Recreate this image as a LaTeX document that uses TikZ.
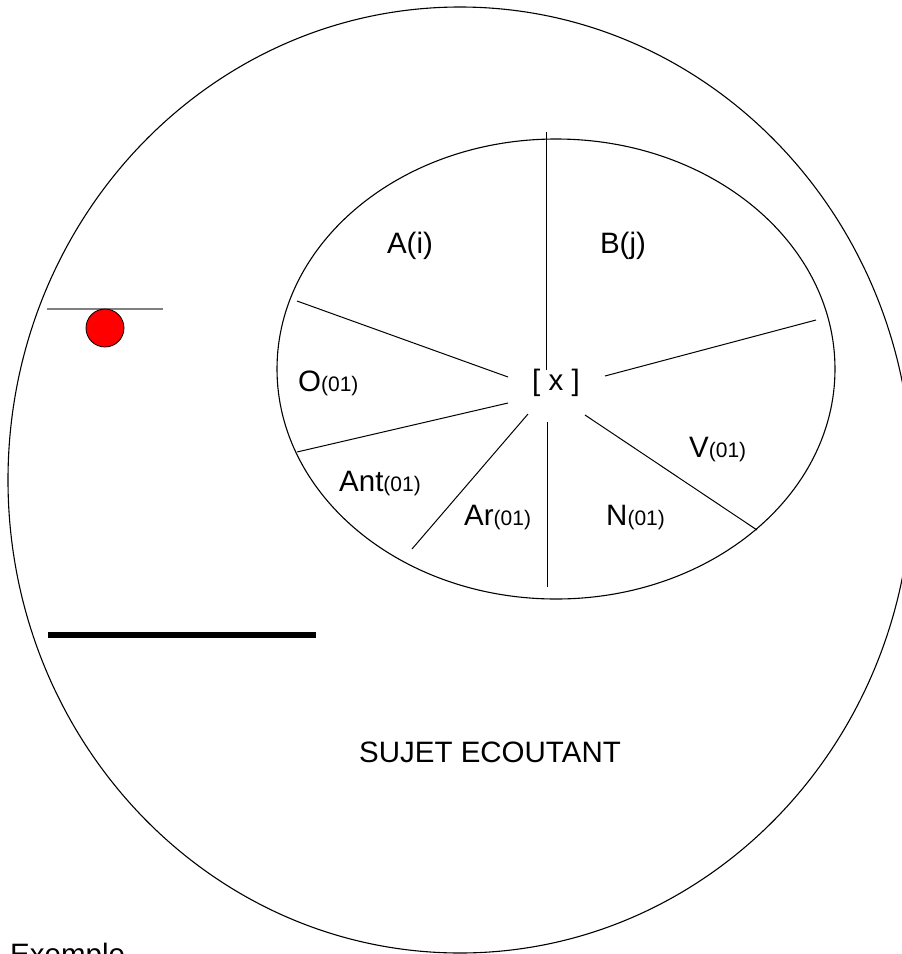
\documentclass[tikz,border=0pt]{standalone}
\usepackage{fontspec}
\setmainfont{Liberation Sans}
\newcommand{\bigtxt}{\fontsize{29.5}{31}\selectfont}
\newcommand{\smtxt}[1]{{\fontsize{21}{23}\selectfont #1}}
\begin{document}
\begin{tikzpicture}[x=1pt,y=-1pt,
  lbl/.style={inner sep=0pt,font=\bigtxt,anchor=base west},
  spoke/.style={draw=black,line width=1pt},
  outline/.style={draw=black,line width=1.1pt}]
\useasboundingbox (0,0) rectangle (902,954);
\clip (0,0) rectangle (902,954);
% big ellipse
\draw[outline] (460,480) ellipse [x radius=452, y radius=473];
% inner ellipse
\draw[outline] (556,369) ellipse [x radius=279, y radius=230];
% spoke endpoints
\coordinate (a1) at (546,370); \coordinate (b1) at (546,132);
\coordinate (a2) at (508,377); \coordinate (b2) at (297,301);
\coordinate (a3) at (508,403); \coordinate (b3) at (297,452);
\coordinate (a4) at (528,414); \coordinate (b4) at (412,549);
\coordinate (a5) at (547,422); \coordinate (b5) at (547,587);
\coordinate (a6) at (585,415); \coordinate (b6) at (757,530);
\coordinate (a7) at (605,376); \coordinate (b7) at (816,320);
\foreach \i in {1,...,7} { \draw[spoke] (a\i) -- (b\i); }
% labels
\node[lbl,anchor=base] (A) at (410,253) {A(i)};
\node[lbl,anchor=base] (B) at (623,253) {B(j)};
\node[lbl] (O) at (298,391) {O\smtxt{(01)}};
\node[lbl,anchor=base] (X) at (556,390) {[ x ]};
\node[lbl] (V) at (689,457) {V\smtxt{(01)}};
\node[lbl] (Ant) at (339,491) {Ant\smtxt{(01)}};
\node[lbl] (Ar) at (464,525) {Ar\smtxt{(01)}};
\node[lbl] (N) at (606,525) {N\smtxt{(01)}};
\node[lbl,anchor=base] (S) at (490,762) {SUJET ECOUTANT};
\node[lbl] (E) at (10,964) {Exemple};
% red ball and its line
\coordinate (g1) at (47,309); \coordinate (g2) at (163,309);
\draw[draw=gray,line width=1.5pt] (g1) -- (g2);
\node[circle,draw=black,fill=red,line width=0.8pt,minimum size=38pt,inner sep=0pt] (ball) at (105,328) {};
% thick bar
\coordinate (t1) at (48,635); \coordinate (t2) at (316,635);
\draw[line width=6pt] (t1) -- (t2);
\end{tikzpicture}
\end{document}
